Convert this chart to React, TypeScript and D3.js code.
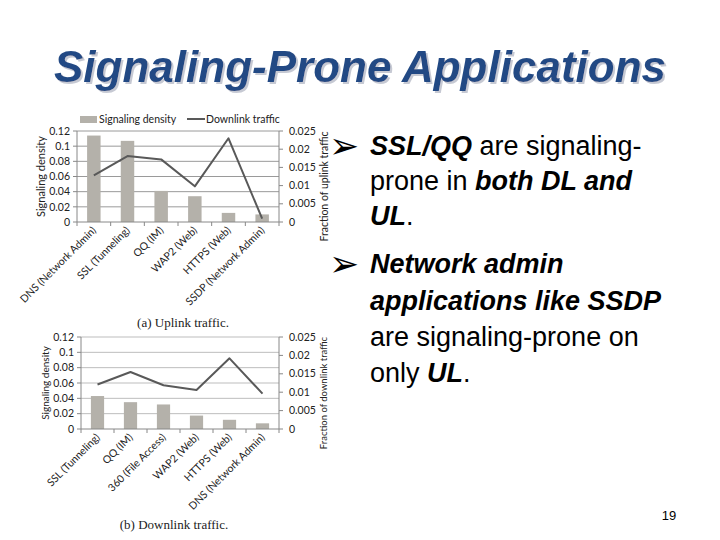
import React from 'react';
import * as d3 from 'd3';

// uplink chart (a)
const upCats = ['DNS (Network Admin)', 'SSL (Tunneling)', 'QQ (IM)', 'WAP2 (Web)', 'HTTPS (Web)', 'SSDP (Network Admin)'];
const upDensity = [0.114, 0.107, 0.041, 0.034, 0.012, 0.010];
const upTraffic = [0.0128, 0.0181, 0.0172, 0.0098, 0.0230, 0.0009];

// downlink chart (b)
const downCats = ['SSL (Tunneling)', 'QQ (IM)', '360 (File Access)', 'WAP2 (Web)', 'HTTPS (Web)', 'DNS (Network Admin)'];
const downDensity = [0.043, 0.035, 0.032, 0.0175, 0.012, 0.0074];
const downTraffic = [0.0121, 0.0155, 0.0119, 0.0106, 0.0192, 0.0096];

const leftTicks = [0, 0.02, 0.04, 0.06, 0.08, 0.1, 0.12];
const rightTicks = [0, 0.005, 0.01, 0.015, 0.02, 0.025];

const CHART_FONT = 'Lato, "Open Sans", sans-serif';
const BAR = '#b4b1aa';
const LINE = '#595959';

interface ChartProps {
  cats: string[];
  density: number[];
  traffic: number[];
  left: number;
  right: number;
  top: number;
  bottom: number;
  rightLabel: string;
  caption: string;
  captionX: number;
  captionY: number;
  gridColor: string;
  labelSize: number;
  legend?: boolean;
}

function Chart({ cats, density, traffic, left, right, top, bottom, rightLabel, caption, captionX, captionY, gridColor, labelSize, legend }: ChartProps) {
  const x = d3.scaleBand().domain(cats).range([left, right]).paddingInner(0.6).paddingOuter(0.3);
  const band = d3.scaleBand().domain(cats).range([left, right]);
  const y = d3.scaleLinear().domain([0, 0.12]).range([bottom, top]);
  const y2 = d3.scaleLinear().domain([0, 0.025]).range([bottom, top]);
  const line = d3.line<number>()
    .x((_, i) => band(cats[i])! + band.bandwidth() / 2)
    .y((d) => y2(d));

  return (
    <g fontFamily={CHART_FONT} fill="#222">
      {leftTicks.slice(1).map((t) => (
        <line key={t} x1={left} x2={right} y1={y(t)} y2={y(t)} stroke={gridColor} strokeWidth={1} />
      ))}
      {density.map((d, i) => (
        <rect key={i} x={x(cats[i])} y={y(d)} width={x.bandwidth()} height={bottom - y(d)} fill={BAR} />
      ))}
      <path d={line(traffic)!} fill="none" stroke={LINE} strokeWidth={2} strokeLinejoin="round" />
      {/* axes */}
      <line x1={left} x2={left} y1={top} y2={bottom} stroke="#888" />
      <line x1={right} x2={right} y1={top} y2={bottom} stroke="#888" />
      <line x1={left} x2={right} y1={bottom} y2={bottom} stroke="#888" />
      {cats.map((c) => (
        <line key={c} x1={band(c)!} x2={band(c)!} y1={bottom} y2={bottom + 4} stroke="#888" />
      ))}
      <line x1={right} x2={right} y1={bottom} y2={bottom + 4} stroke="#888" />
      {leftTicks.map((t) => (
        <g key={t}>
          <line x1={left - 4} x2={left} y1={y(t)} y2={y(t)} stroke="#888" />
          <text x={left - 7} y={y(t)} dy="0.35em" textAnchor="end" fontSize={10.5}>{String(t)}</text>
        </g>
      ))}
      {rightTicks.map((t) => (
        <g key={t}>
          <line x1={right} x2={right + 4} y1={y2(t)} y2={y2(t)} stroke="#888" />
          <text x={right + 10} y={y2(t)} dy="0.35em" fontSize={10.5}>{String(t)}</text>
        </g>
      ))}
      {cats.map((c) => {
        const cx = band(c)! + band.bandwidth() / 2 + 3;
        const cy = bottom + 9;
        return (
          <text key={c} x={cx} y={cy} textAnchor="end" fontSize={10.5}
            transform={`rotate(-45 ${cx} ${cy})`}>{c}</text>
        );
      })}
      <text x={left - 36} y={(top + bottom) / 2} textAnchor="middle" fontSize={labelSize}
        transform={`rotate(-90 ${left - 36} ${(top + bottom) / 2})`} dy="0.35em">Signaling density</text>
      <text x={right + 45} y={(top + bottom) / 2 + 10} textAnchor="middle" fontSize={labelSize - 0.5}
        transform={`rotate(-90 ${right + 45} ${(top + bottom) / 2 + 10})`} dy="0.35em">{rightLabel}</text>
      {legend && (
        <g fontSize={10.5}>
          <rect x={left + 3} y={top - 15} width={17} height={7} fill={BAR} />
          <text x={left + 22} y={top - 8}>Signaling density</text>
          <line x1={left + 110} x2={left + 128} y1={top - 12} y2={top - 12} stroke={LINE} strokeWidth={2} />
          <text x={left + 129} y={top - 8}>Downlink traffic</text>
        </g>
      )}
      <text x={captionX} y={captionY} textAnchor="middle" fontFamily='"Liberation Serif", serif' fontSize={13}>{caption}</text>
    </g>
  );
}

const TEXT_FONT = '"Liberation Sans", Arial, sans-serif';

function B({ children }: { children: React.ReactNode }) {
  return <tspan fontWeight="bold" fontStyle="italic">{children}</tspan>;
}

export default function App() {
  return (
    <svg width={720} height={540} style={{ position: 'absolute', left: 0, top: 0, background: '#fff' }}>
      <defs>
        <filter id="shadow" x="-5%" y="-20%" width="110%" height="150%">
          <feDropShadow dx={2} dy={2} stdDeviation={0.6} floodColor="#b8bcc8" floodOpacity={0.8} />
        </filter>
      </defs>
      <rect width={720} height={540} fill="#fff" />
      <text x={360} y={82} fill="#234a84" filter="url(#shadow)" fontFamily={TEXT_FONT} fontWeight="bold"
        fontStyle="italic" fontSize={44} textAnchor="middle">Signaling-Prone Applications</text>

      <Chart cats={upCats} density={upDensity} traffic={upTraffic}
        left={77} right={279} top={131} bottom={222}
        rightLabel="Fraction of uplink traffic" caption="(a) Uplink traffic."
        captionX={183} captionY={327} gridColor="#9a9a9a" labelSize={11} legend />
      <Chart cats={downCats} density={downDensity} traffic={downTraffic}
        left={81} right={279} top={337} bottom={429}
        rightLabel="Fraction of downlink traffic" caption="(b) Downlink traffic."
        captionX={174} captionY={529} gridColor="#bdbdbd" labelSize={10} />

      <g fontFamily={TEXT_FONT} fontSize={27} fill="#000">
        <text x={329} y={158} fontFamily='"DejaVu Sans", sans-serif' fontSize={36}>➢</text>
        <text x={370} y={155}><B>SSL/QQ</B> are signaling-</text>
        <text x={370} y={190}>prone in <B>both DL and</B></text>
        <text x={370} y={225}><B>UL</B>.</text>
        <text x={329} y={276} fontFamily='"DejaVu Sans", sans-serif' fontSize={36}>➢</text>
        <text x={370} y={273}><B>Network admin</B></text>
        <text x={370} y={310}><B>applications like SSDP</B></text>
        <text x={370} y={346}>are signaling-prone on</text>
        <text x={370} y={382}>only <B>UL</B>.</text>
      </g>
      <text x={669} y={520} textAnchor="middle" fontFamily={TEXT_FONT} fontSize={13}>19</text>
    </svg>
  );
}
